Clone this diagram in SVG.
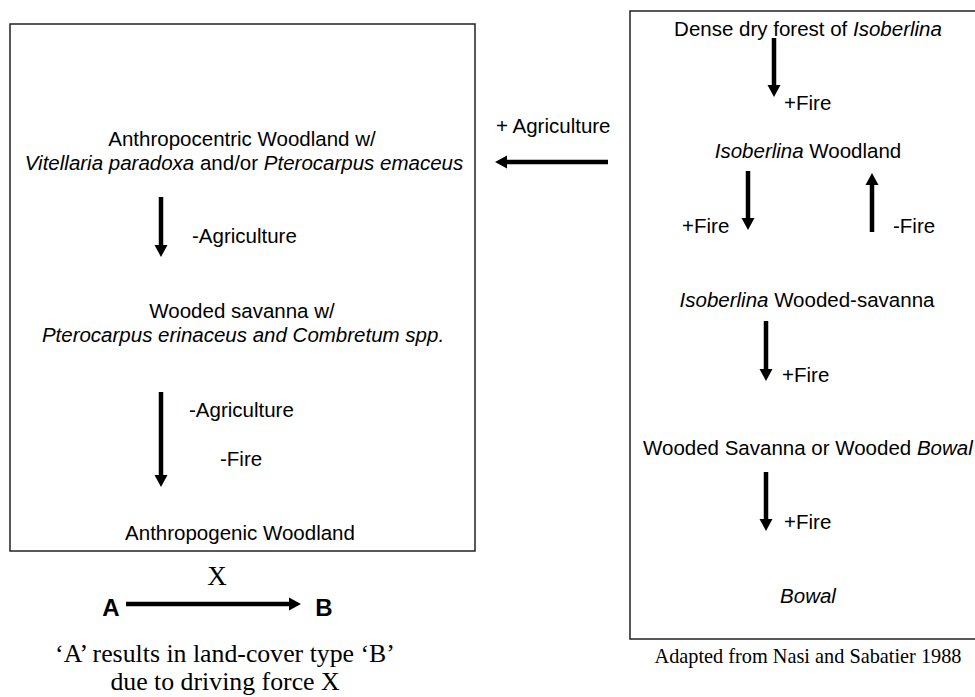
<svg xmlns="http://www.w3.org/2000/svg" width="975" height="697" viewBox="0 0 975 697">
<style>
.s{font-family:"Liberation Sans",Arial,sans-serif;font-size:20.5px;fill:#000}
.i{font-style:italic}
.b{font-size:24px;font-weight:bold}
.t{font-family:"Liberation Serif","Times New Roman",serif;fill:#000}
.box{fill:none;stroke:#222;stroke-width:1.5}
.ar{stroke:#000;stroke-width:4.5;fill:none;marker-end:url(#head)}
</style>
<defs>
<marker id="head" markerUnits="userSpaceOnUse" markerWidth="14" markerHeight="14" viewBox="0 -7 14 14" refX="0" refY="0" orient="auto" overflow="visible">
<path d="M0,-6.5 L12,0 L0,6.5 Z" fill="#000"/>
</marker>
</defs>
<rect width="975" height="697" fill="#fff"/>
<g id="left-panel">
<rect class="box" x="10" y="24" width="465" height="527"/>
</g>
<g id="right-panel">
<rect class="box" x="630" y="11" width="360" height="628"/>
</g>
<g id="node-anthropocentric">
<text class="s" x="242" y="146" text-anchor="middle">Anthropocentric Woodland w/</text>
<text class="s" x="244" y="170" text-anchor="middle"><tspan class="i">Vitellaria paradoxa</tspan> and/or <tspan class="i">Pterocarpus emaceus</tspan></text>
</g>
<g id="node-wooded-savanna">
<text class="s" x="242" y="318" text-anchor="middle">Wooded savanna w/</text>
<text class="s i" x="243" y="342" text-anchor="middle">Pterocarpus erinaceus and Combretum spp.</text>
</g>
<g id="node-anthropogenic">
<text class="s" x="240" y="540" text-anchor="middle">Anthropogenic Woodland</text>
</g>
<g id="node-dense-forest">
<text class="s" x="808" y="36" text-anchor="middle">Dense dry forest of <tspan class="i">Isoberlina</tspan></text>
</g>
<g id="node-isoberlina-woodland">
<text class="s" x="808" y="158" text-anchor="middle"><tspan class="i">Isoberlina</tspan> Woodland</text>
</g>
<g id="node-isoberlina-wooded-savanna">
<text class="s" x="807" y="307" text-anchor="middle"><tspan class="i">Isoberlina</tspan> Wooded-savanna</text>
</g>
<g id="node-wooded-savanna-bowal">
<text class="s" x="643" y="455">Wooded Savanna or Wooded <tspan class="i">Bowal</tspan></text>
</g>
<g id="node-bowal">
<text class="s i" x="808" y="603" text-anchor="middle">Bowal</text>
</g>
<g id="legend">
<text class="t" x="217" y="585" font-size="27" text-anchor="middle">X</text>
<text class="s b" x="111" y="616" text-anchor="middle">A</text>
<text class="s b" x="324" y="616" text-anchor="middle">B</text>
<text class="t" x="225" y="662" font-size="25.8" text-anchor="middle">‘A’ results in land-cover type ‘B’</text>
<text class="t" x="225" y="690" font-size="25.8" text-anchor="middle">due to driving force X</text>
</g>
<g id="source">
<text class="t" x="808" y="663" font-size="20.3" text-anchor="middle">Adapted from Nasi and Sabatier 1988</text>
</g>
<g id="connectors">
<line class="ar" x1="161" y1="197" x2="161" y2="245"/>
<line class="ar" x1="161" y1="392" x2="161" y2="475"/>
<line class="ar" x1="126" y1="604" x2="289" y2="604"/>
<line class="ar" x1="608" y1="162" x2="507" y2="162"/>
<line class="ar" x1="774" y1="38" x2="774" y2="85"/>
<line class="ar" x1="748" y1="171" x2="748" y2="218"/>
<line class="ar" x1="872" y1="232" x2="872" y2="185"/>
<line class="ar" x1="766" y1="321" x2="766" y2="369"/>
<line class="ar" x1="766" y1="472" x2="766" y2="519"/>
</g>
<g id="connector-labels">
<text class="s" x="192" y="243">-Agriculture</text>
<text class="s" x="189" y="417">-Agriculture</text>
<text class="s" x="220" y="466">-Fire</text>
<text class="s" x="496" y="133">+ Agriculture</text>
<text class="s" x="784" y="110">+Fire</text>
<text class="s" x="682" y="233">+Fire</text>
<text class="s" x="893" y="233">-Fire</text>
<text class="s" x="782" y="382">+Fire</text>
<text class="s" x="784" y="529">+Fire</text>
</g>
</svg>
